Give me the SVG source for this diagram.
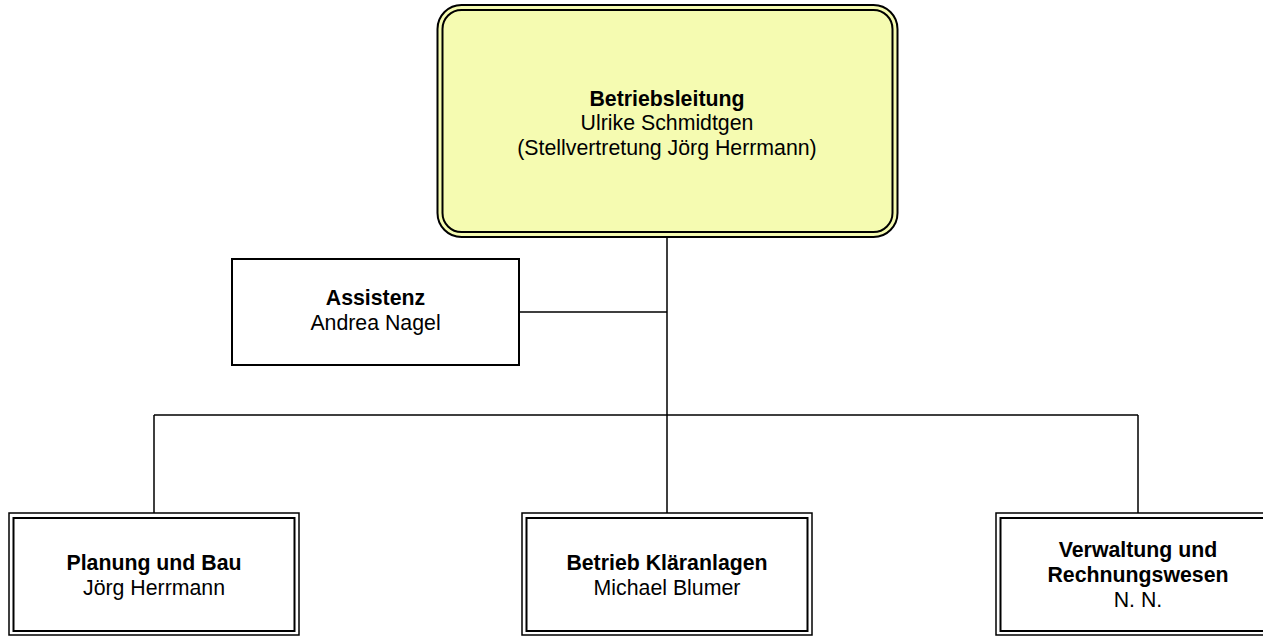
<svg xmlns="http://www.w3.org/2000/svg" width="1263" height="636" viewBox="0 0 1263 636">
<style>
.t{font-family:"Liberation Sans",Arial,sans-serif;font-size:21.3px;fill:#000;text-anchor:middle}
.b{font-weight:bold}
.o{fill:#fff;stroke:#000;stroke-width:1.5}
.i{fill:none;stroke:#000;stroke-width:2}
.c{fill:none;stroke:#000;stroke-width:1.5}
</style>
<rect width="1263" height="636" fill="#fff"/>
<g id="connectors">
<path class="c" d="M667 237V415M519 312H667M154 415H1138M154 415V513M667 415V513M1138 415V513"/>
</g>
<g id="betriebsleitung">
<rect x="437.5" y="5" width="460" height="232" rx="24" fill="#f5fbb1" stroke="#000" stroke-width="2"/>
<rect x="442.5" y="10" width="450" height="222" rx="19" class="i"/>
<text class="t b" x="667" y="105.5">Betriebsleitung</text>
<text class="t" x="667" y="130">Ulrike Schmidtgen</text>
<text class="t" x="667" y="154.5">(Stellvertretung Jörg Herrmann)</text>
</g>
<g id="assistenz">
<rect x="232" y="259" width="287" height="106" fill="#fff" stroke="#000" stroke-width="2"/>
<text class="t b" x="375.5" y="305">Assistenz</text>
<text class="t" x="375.5" y="330">Andrea Nagel</text>
</g>
<g id="planung">
<rect x="9" y="513" width="290" height="122" class="o"/>
<rect x="13.5" y="518" width="281" height="113" class="i"/>
<text class="t b" x="154" y="570">Planung und Bau</text>
<text class="t" x="154" y="595">Jörg Herrmann</text>
</g>
<g id="betrieb">
<rect x="522" y="513" width="290" height="122" class="o"/>
<rect x="526.5" y="518" width="281" height="113" class="i"/>
<text class="t b" x="667" y="570">Betrieb Kläranlagen</text>
<text class="t" x="667" y="595">Michael Blumer</text>
</g>
<g id="verwaltung">
<rect x="996" y="513" width="284" height="122" class="o"/>
<rect x="1000.5" y="518" width="275" height="113" class="i"/>
<text class="t b" x="1138" y="557">Verwaltung und</text>
<text class="t b" x="1138" y="582">Rechnungswesen</text>
<text class="t" x="1138" y="607">N. N.</text>
</g>
</svg>
